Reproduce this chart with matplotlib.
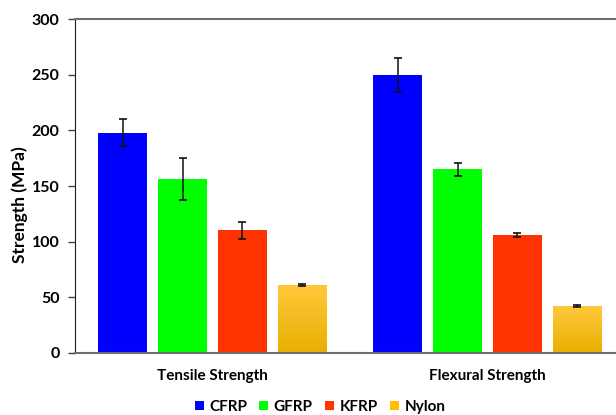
import matplotlib
matplotlib.use("Agg")
import matplotlib.pyplot as plt
import numpy as np
from matplotlib.colors import LinearSegmentedColormap
from matplotlib.patches import Patch

categories = ["Tensile Strength", "Flexural Strength"]
materials = ["CFRP", "GFRP", "KFRP", "Nylon"]
values = {
    "CFRP": [198, 250],
    "GFRP": [156, 165],
    "KFRP": [110, 106],
    "Nylon": [61, 42],
}
errors = {
    "CFRP": [12, 15],
    "GFRP": [19, 6],
    "KFRP": [8, 1.5],
    "Nylon": [1.2, 1.2],
}
colors = {"CFRP": "#0000FF", "GFRP": "#00FF00", "KFRP": "#FF3300", "Nylon": "#FFC000"}
yticks = [0, 50, 100, 150, 200, 250, 300]

plt.rcParams['font.family'] = ['Lato', 'DejaVu Sans']
fig = plt.figure(figsize=(6.16, 4.15), dpi=100)
W, H = 616, 415
left, right, bottom, top = 75, 625, 352.7, 19.3
ax = fig.add_axes([left / W, 1 - bottom / H, (right - left) / W, (bottom - top) / H])

x = np.arange(len(categories))
pitch = 0.218
width = 0.178
offsets = (np.arange(len(materials)) - 1.5) * pitch

grad = LinearSegmentedColormap.from_list("nyl", ["#E8B000", "#FFC83C"])
for i, m in enumerate(materials):
    bars = ax.bar(x + offsets[i], values[m], width, color=colors[m], zorder=2,
                  edgecolor='none')
    ax.errorbar(x + offsets[i], values[m], yerr=errors[m], fmt='none', ecolor='#111111',
                elinewidth=1.1, capsize=2.8, capthick=1.2, zorder=3)
    if m == "Nylon":
        for b in bars:
            bx, by = b.get_x(), b.get_y()
            bw, bh = b.get_width(), b.get_height()
            img = ax.imshow(np.linspace(0, 1, 100).reshape(-1, 1), cmap=grad,
                            extent=[bx, bx + bw, by, by + bh], origin='lower',
                            aspect='auto', zorder=2.5)
            img.set_clip_path(b)

ax.set_xlim(-0.5, 1.5)
ax.set_ylim(0, 300)
ax.set_yticks(yticks)
ax.set_yticklabels([str(t) for t in yticks], fontsize=11.5, fontweight='bold')
ax.set_xticks(x)
ax.set_xticklabels(categories, fontsize=11, fontweight='bold')
ax.tick_params(axis='x', length=0, pad=12)
ax.tick_params(axis='y', length=5, width=1, color='#404040', pad=6)
ax.set_ylabel("Strength (MPa)", fontsize=12.5, fontweight='bold', labelpad=3, y=0.443)

ax.spines['right'].set_visible(False)
ax.spines['left'].set_color('#202020')
ax.spines['bottom'].set_color('#6e6e6e')
ax.spines['bottom'].set_linewidth(1.5)
ax.spines['top'].set_color('#6e6e6e')
ax.spines['top'].set_linewidth(1.5)

handles = [Patch(facecolor=colors[m], label=m) for m in materials]
fig.legend(handles=handles, loc='center', bbox_to_anchor=(320 / W, 1 - 407 / H),
           ncol=4, frameon=False, handlelength=0.6, handleheight=0.6,
           handletextpad=0.35, columnspacing=0.8,
           prop={'weight': 'bold', 'size': 11})

fig.savefig("out.png", dpi=100)
